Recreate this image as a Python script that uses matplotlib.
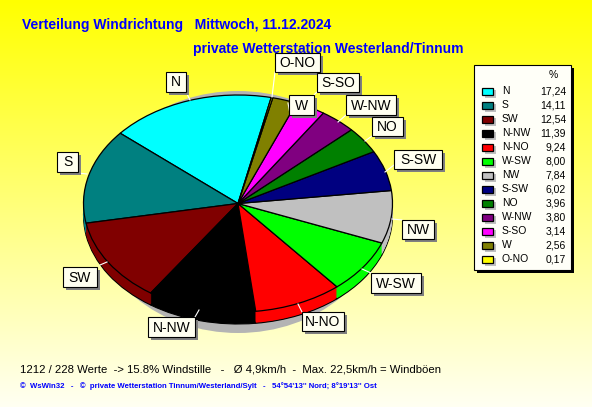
import numpy as np
import matplotlib
matplotlib.use('Agg')
import matplotlib.pyplot as plt
from matplotlib.patches import Rectangle, Ellipse

plt.rcParams['font.family'] = ['Liberation Sans', 'DejaVu Sans']

directions = ['N', 'S', 'SW', 'N-NW', 'N-NO', 'W-SW', 'NW', 'S-SW', 'NO', 'W-NW', 'S-SO', 'W', 'O-NO']
percent = [17.24, 14.11, 12.54, 11.39, 9.24, 8.00, 7.84, 6.02, 3.96, 3.80, 3.14, 2.56, 0.17]
percent_labels = ['17,24', '14,11', '12,54', '11,39', '9,24', '8,00', '7,84', '6,02', '3,96', '3,80', '3,14', '2,56', '0,17']
colors = ['#00ffff', '#008080', '#800000', '#000000', '#ff0000', '#00ff00', '#c0c0c0',
          '#000080', '#008000', '#800080', '#ff00ff', '#808000', '#ffff00']

# label boxes in pixels: x0, x1, y0, y1
label_boxes = {
    'N': (166, 186, 72, 92), 'S': (57, 78, 152, 172), 'SW': (63, 97, 267, 287),
    'N-NW': (148, 195, 317, 337), 'N-NO': (302, 344, 312, 331), 'W-SW': (371, 421, 273, 293),
    'NW': (402, 434, 220, 239), 'S-SW': (394, 442, 150, 169), 'NO': (372, 403, 117, 136),
    'W-NW': (346, 396, 95, 115), 'S-SO': (317, 359, 73, 92), 'W': (289, 314, 95, 115),
    'O-NO': (275, 320, 53, 72),
}
# white leader lines in pixels: x0, y0, x1, y1
leaders = {
    'N': (186, 92, 190, 100), 'S': (78, 173, 87, 174), 'SW': (100, 265, 107, 262),
    'N-NW': (195, 317, 199, 310), 'N-NO': (302, 312, 298, 304), 'W-SW': (371, 273, 362, 269),
    'NW': (402, 220, 392, 219), 'S-SW': (394, 165, 385, 172), 'NO': (372, 136, 365, 141),
    'W-NW': (346, 115, 338, 122), 'S-SO': (317, 92, 314, 95), 'W': (288, 103, 290, 114),
    'O-NO': (275, 72, 272, 97),
}

W, H = 592, 407
cx, cy, rx, ry = 238, 203.5, 154.5, 108.5
depth = 12
start = 77.6

fig = plt.figure(figsize=(W / 100, H / 100), dpi=100)

# background gradient, yellow to almost white
bg = fig.add_axes([0, 0, 1, 1], zorder=0)
bg.set_xlim(0, W)
bg.set_ylim(H, 0)
bg.axis('off')
blue = np.linspace(0, 0.95, 256).reshape(-1, 1)
grad = np.dstack([np.ones_like(blue), np.ones_like(blue), blue])
bg.imshow(grad, extent=[0, W, H, 0], aspect='auto')
bg.set_xlim(0, W)
bg.set_ylim(H, 0)
bg.add_patch(Ellipse((238, 212), 290, 242, color='#b4b4b4', lw=0))

# pie axes stretched so the circle becomes the ellipse
pie_ax = fig.add_axes([(cx - rx) / W, (H - cy - ry) / H, 2 * rx / W, 2 * ry / H], zorder=1)
for d in range(depth, 0, -1):
    edge = {'edgecolor': 'black', 'linewidth': 0.8} if d == depth else {'linewidth': 0}
    pie_ax.pie(percent, colors=colors, startangle=start, counterclock=True,
               center=(0, -d / ry), radius=1, wedgeprops=edge, normalize=True)
pie_ax.pie(percent, colors=colors, startangle=start, counterclock=True, radius=1,
           wedgeprops={'edgecolor': 'black', 'linewidth': 0.9}, normalize=True)
pie_ax.set_aspect('auto')
pie_ax.set_xlim(-1, 1)
pie_ax.set_ylim(-1, 1)
for p in pie_ax.patches:
    p.set_clip_on(False)

# everything in pixel coordinates on top
ov = fig.add_axes([0, 0, 1, 1], zorder=2)
ov.set_xlim(0, W)
ov.set_ylim(H, 0)
ov.axis('off')
ov.patch.set_alpha(0)

ov.text(22, 25, 'Verteilung Windrichtung   Mittwoch, 11.12.2024', color='#0000ff',
        fontsize=10, fontweight='bold', va='center', zorder=1)
ov.text(193, 49, 'private Wetterstation Westerland/Tinnum', color='#0000ff',
        fontsize=10, fontweight='bold', va='center', zorder=1)
ov.text(20, 369, '1212 / 228 Werte  -> 15.8% Windstille   -   Ø 4,9km/h  -  Max. 22,5km/h = Windböen',
        color='black', fontsize=8.2, va='center')
ov.text(20, 386, "©  WsWin32   -   ©  private Wetterstation Tinnum/Westerland/Sylt   -   54°54'13'' Nord; 8°19'13'' Ost",
        color='#0000ff', fontsize=5.6, fontweight='bold', va='center')

for name in directions:
    x0, x1, y0, y1 = label_boxes[name]
    lx0, ly0, lx1, ly1 = leaders[name]
    ov.plot([lx0, lx1], [ly0, ly1], color='white', lw=0.8, zorder=2)
    ov.add_patch(Rectangle((x0 + 3, y0 + 3), x1 - x0, y1 - y0, color='#808080', lw=0, zorder=3))
    ov.add_patch(Rectangle((x0, y0), x1 - x0, y1 - y0, facecolor='#fffff0', edgecolor='black', lw=0.8, zorder=4))
    ov.text((x0 + x1) / 2, (y0 + y1) / 2 + 0.5, name, ha='center', va='center', fontsize=10, zorder=5)

# legend
ov.add_patch(Rectangle((477, 68), 97, 205, color='black', lw=0, zorder=3))
ov.add_patch(Rectangle((474, 65), 97, 205, facecolor='#fffff8', edgecolor='black', lw=0.8, zorder=4))
ov.text(553, 75, '%', ha='center', va='center', fontsize=7.5, zorder=5)
for i, name in enumerate(directions):
    y = 91 + i * 14.03
    ov.add_patch(Rectangle((485, y - 1), 11, 8, color='#c0c0c0', lw=0, zorder=5))
    ov.add_patch(Rectangle((482, y - 3.5), 11, 7, facecolor=colors[i], edgecolor='black', lw=0.9, zorder=6))
    ov.text(502, y, name, va='center', fontsize=7.5, zorder=6)
    ov.text(566, y, percent_labels[i], va='center', ha='right', fontsize=7.5, zorder=6)

fig.savefig('out.png', dpi=100)
